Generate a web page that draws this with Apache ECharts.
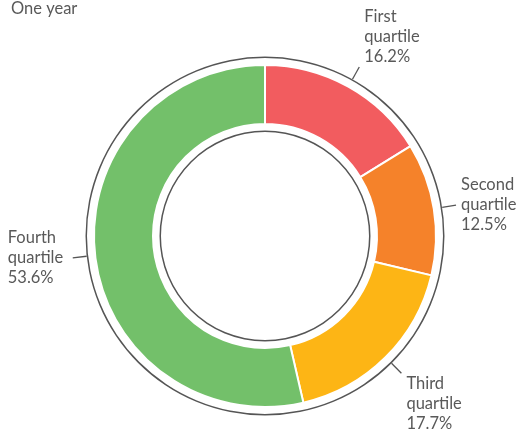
<!DOCTYPE html>
<html>
<head>
<meta charset="utf-8">
<script src="https://cdn.jsdelivr.net/npm/echarts@6/dist/echarts.min.js"></script>
<style>
  html, body { margin: 0; padding: 0; background: #fff; }
  #chart { width: 528px; height: 432px; }
</style>
</head>
<body>
<div id="chart"></div>
<script>
// Share of the total by quartile, one year
const quartiles = ["First quartile", "Second quartile", "Third quartile", "Fourth quartile"];
const shares = [16.2, 12.5, 17.7, 53.6];
const sliceColors = ["#f25c5f", "#f5822a", "#fdb515", "#73c06a"];

const textColor = "#595959";
const fontFamily = "Lato, 'Open Sans', sans-serif";

const chart = echarts.init(document.getElementById("chart"));

// Pie data built from the arrays above
const sliceData = quartiles.map((name, i) => ({
  name: name,
  value: shares[i],
  itemStyle: { color: sliceColors[i] },
}));
const labelData = quartiles.map((name, i) => ({ name: name, value: shares[i] }));

const center = [265, 236];

const option = {
  animation: false,
  title: {
    text: "One year",
    left: 6,
    top: -5,
    textStyle: { color: textColor, fontSize: 16.5, fontWeight: "normal", fontFamily: fontFamily },
  },
  series: [
    // thin outer ring
    {
      type: "pie",
      silent: true,
      center: center,
      radius: [178, 179.5],
      label: { show: false },
      labelLine: { show: false },
      itemStyle: { color: "#555" },
      data: [{ value: 1 }],
    },
    // thin inner ring
    {
      type: "pie",
      silent: true,
      center: center,
      radius: [104, 105.5],
      label: { show: false },
      labelLine: { show: false },
      itemStyle: { color: "#555" },
      data: [{ value: 1 }],
    },
    // the donut itself
    {
      type: "pie",
      center: center,
      radius: [112, 171],
      startAngle: 90,
      clockwise: true,
      label: { show: false },
      labelLine: { show: false },
      itemStyle: { borderColor: "#fff", borderWidth: 2 },
      data: sliceData,
    },
    // invisible ring just carrying the labels and leader lines
    {
      type: "pie",
      silent: true,
      center: center,
      radius: [178, 179.5],
      startAngle: 90,
      clockwise: true,
      avoidLabelOverlap: false,
      itemStyle: { color: "transparent" },
      label: {
        show: true,
        position: "outside",
        distanceToLabelLine: 5,
        formatter: (p) => {
          const lines = p.name.split(" ").concat(p.value.toFixed(1) + "%");
          return lines.map((s) => "{t|" + s + "}").join("\n");
        },
        rich: {
          t: {
            color: textColor,
            fontFamily: fontFamily,
            fontSize: 16.5,
            lineHeight: 20,
            width: 60,
            align: "left",
          },
        },
      },
      labelLine: {
        show: true,
        length: 14,
        length2: 0,
        lineStyle: { color: "#555", width: 1.3 },
      },
      // labels near top/bottom sit above/below the end of their leader line
      labelLayout: (params) => {
        const pts = params.labelLinePoints;
        if (!pts) return {};
        const dx = pts[1][0] - pts[0][0];
        const dy = pts[1][1] - pts[0][1];
        const len = Math.sqrt(dx * dx + dy * dy) || 1;
        if (dy / len < -0.6) return { verticalAlign: "bottom" };
        if (dy / len > 0.6) return { verticalAlign: "top" };
        return {};
      },
      data: labelData,
    },
  ],
};

chart.setOption(option);
</script>
</body>
</html>
